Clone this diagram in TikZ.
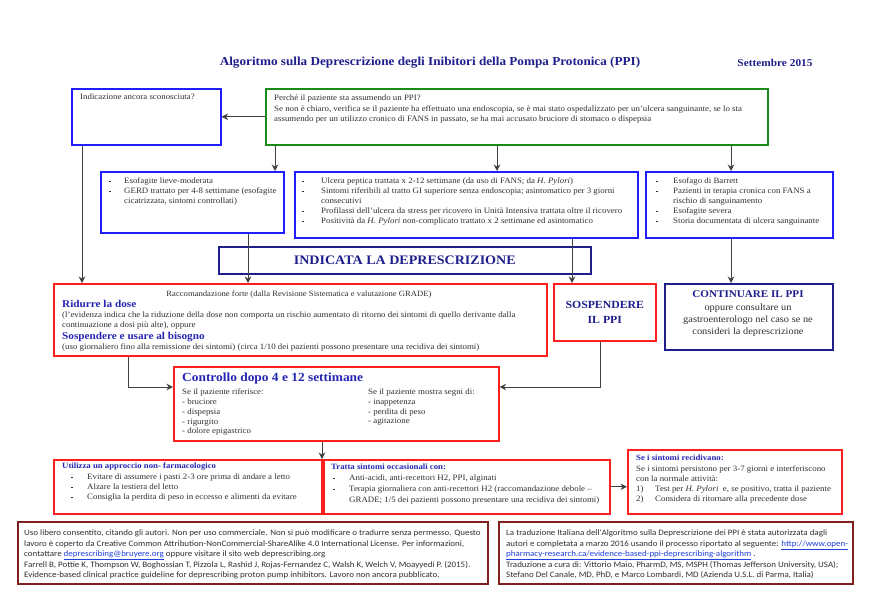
\documentclass[tikz,border=0pt]{standalone}
\usepackage{fontspec}
\setmainfont{Liberation Serif}[FakeStretch=1.08]
\newfontfamily\footfont{Carlito}[FakeStretch=1.08]
\usetikzlibrary{arrows.meta,calc}

\definecolor{boxblue}{HTML}{1E1EFF}
\definecolor{navy}{HTML}{1F1F8C}
\definecolor{headblue}{HTML}{2626B4}
\definecolor{boxgreen}{HTML}{1A8A1A}
\definecolor{boxred}{HTML}{FF1E1E}
\definecolor{darkred}{HTML}{7F1F1F}
\definecolor{textgray}{HTML}{303030}
\definecolor{arrowgray}{HTML}{404040}
\definecolor{linkblue}{HTML}{1F3FE0}

\newcommand\bsq{\rule[1.5pt]{1.6pt}{1.6pt}}
\newcommand\bl[1]{\makebox[#1][l]{\bsq}}
\newcommand\ind[1]{\hspace*{#1}}
\newcommand\lnk[1]{\textcolor{linkblue}{\underline{#1}}}

\begin{document}
\begin{tikzpicture}[x=1pt, y=-1pt,
  box/.style={draw, rectangle, anchor=north west, inner sep=0pt, line width=1.6pt},
  bluebox/.style={box, draw=boxblue},
  greenbox/.style={box, draw=boxgreen},
  navybox/.style={box, draw=navy},
  redbox/.style={box, draw=boxred},
  footbox/.style={box, draw=darkred},
  txt/.style={anchor=north west, inner sep=0pt, align=left, text=textgray,
              font=\fontsize{8.2}{10}\selectfont},
  head/.style={anchor=north west, inner sep=0pt, align=left, text=headblue,
               font=\fontsize{8.1}{10}\selectfont\bfseries},
  bighead/.style={anchor=north west, inner sep=0pt, align=left, text=headblue,
                  font=\fontsize{10.4}{12}\selectfont\bfseries},
  foot/.style={anchor=north west, inner sep=0pt, align=left, text=textgray,
               font=\footfont\fontsize{8.3}{10.4}\selectfont},
  edge/.style={draw=arrowgray, line width=0.8pt, -{Stealth[length=6.5pt,width=6.5pt]}},
]
  \useasboundingbox[fill=white] (0,0) rectangle (870,600);

  % ===== Title =====
  \node[text=navy, font=\fontsize{12.2}{14}\selectfont\bfseries] (title) at (430,63)
       {Algoritmo sulla Deprescrizione degli Inibitori della Pompa Protonica (PPI)};
  \node[text=navy, font=\fontsize{10.5}{12}\selectfont\bfseries] (date) at (775,63) {Settembre 2015};

  % ===== Question row =====
  \node[bluebox, minimum width=149pt, minimum height=56pt] (unk) at (71,88) {};
  \node[txt] (unktxt) at (80,94) {Indicazione ancora sconosciuta?};

  \node[greenbox, minimum width=502pt, minimum height=56pt] (why) at (265,88) {};
  \node[txt, font=\fontsize{8.2}{10.2}\selectfont] (whytxt) at (274,95) {Perché il paziente sta assumendo un PPI?\\
    Se non è chiaro, verifica se il paziente ha effettuato una endoscopia, se è mai stato ospedalizzato per un'ulcera sanguinante, se lo sta\\
    assumendo per un utilizzo cronico di FANS in passato, se ha mai accusato bruciore di stomaco o dispepsia};

  % ===== Indications row =====
  \node[bluebox, minimum width=183pt, minimum height=61pt] (esolft) at (100,171) {};
  \node[txt] (esolfttxt) at (109,178) {\bl{15pt}Esofagite lieve-moderata\\
    \bl{15pt}GERD trattato per 4-8 settimane (esofagite\\
    \ind{15pt}cicatrizzata, sintomi controllati)};

  \node[bluebox, minimum width=343pt, minimum height=66pt] (esomid) at (294,171) {};
  \node[txt] (esomidtxt) at (302,178) {\bl{19pt}Ulcera peptica trattata x 2-12 settimane (da uso di FANS; da \textit{H. Pylori})\\
    \bl{19pt}Sintomi riferibili al tratto GI superiore senza endoscopia; asintomatico per 3 giorni\\
    \ind{19pt}consecutivi\\
    \bl{19pt}Profilassi dell'ulcera da stress per ricovero in Unità Intensiva trattata oltre il ricovero\\
    \bl{19pt}Positività da \textit{H. Pylori} non-complicato trattato x 2 settimane ed asintomatico};

  \node[bluebox, minimum width=187pt, minimum height=66pt] (esorgt) at (645,171) {};
  \node[txt] (esorgttxt) at (656,178) {\bl{17pt}Esofago di Barrett\\
    \bl{17pt}Pazienti in terapia cronica con FANS a\\
    \ind{17pt}rischio di sanguinamento\\
    \bl{17pt}Esofagite severa\\
    \bl{17pt}Storia documentata di ulcera sanguinante};

  \node[navybox, minimum width=372pt, minimum height=27pt] (indic) at (218,246) {};
  \node[text=navy, font=\fontsize{13}{15}\selectfont\bfseries] (indictxt) at (indic.center)
       {INDICATA LA DEPRESCRIZIONE};

  % ===== Decision row =====
  \node[redbox, minimum width=493pt, minimum height=72pt] (ridurre) at (53,283) {};
  \node[txt, anchor=north, font=\fontsize{8}{10}\selectfont] (gradetxt) at (299,291)
       {Raccomandazione forte (dalla Revisione Sistematica e valutazione GRADE)};
  \node[bighead] (ridhead) at (62,300) {Ridurre la dose};
  \node[txt, font=\fontsize{8.2}{9.6}\selectfont] (ridtxt) at (62,312) {(l'evidenza indica che la riduzione della dose non comporta un rischio aumentato di ritorno dei sintomi di quello derivante dalla\\
    continuazione a dosi più alte), oppure};
  \node[bighead] (sosphead) at (62,332) {Sospendere e usare al bisogno};
  \node[txt] (sosptxt) at (62,344) {(uso giornaliero fino alla remissione dei sintomi) (circa 1/10 dei pazienti possono presentare una recidiva dei sintomi)};

  \node[redbox, minimum width=102pt, minimum height=57pt] (sosp) at (553,283) {};
  \node[text=navy, align=center, font=\fontsize{10.9}{15}\selectfont\bfseries] (sosptitle) at (sosp.center)
       {SOSPENDERE\\IL PPI};

  \node[navybox, minimum width=168pt, minimum height=66pt] (cont) at (664,283) {};
  \node[text=navy, anchor=north, inner sep=0pt, font=\fontsize{10.3}{12}\selectfont\bfseries] (conttitle) at (748,290)
       {CONTINUARE IL PPI};
  \node[text=textgray, anchor=north, inner sep=0pt, align=center, font=\fontsize{9.6}{12}\selectfont] (conttxt) at (748,304)
       {oppure consultare un\\ gastroenterologo nel caso se ne\\ consideri la deprescrizione};

  % ===== Follow-up =====
  \node[redbox, minimum width=325pt, minimum height=74pt] (ctrl) at (173,366) {};
  \node[bighead, font=\fontsize{12.4}{14}\selectfont\bfseries] (ctrlhead) at (182,373) {Controllo dopo 4 e 12 settimane};
  \node[txt, font=\fontsize{8.2}{9.7}\selectfont] (ctrlleft) at (182,389) {Se il paziente riferisce:\\
    - bruciore\\ - dispepsia\\ - rigurgito\\ - dolore epigastrico};
  \node[txt, font=\fontsize{8.2}{9.7}\selectfont] (ctrlright) at (368,389) {Se il paziente mostra segni di:\\
    - inappetenza\\ - perdita di peso\\ - agitazione};

  % ===== Management row =====
  \node[redbox, minimum width=268pt, minimum height=54pt] (nonfarm) at (53,459) {};
  \node[head] (nonfarmhead) at (62,463) {Utilizza un approccio non- farmacologico};
  \node[txt] (nonfarmtxt) at (71,474) {\bl{16pt}Evitare di assumere i pasti 2-3 ore prima di andare a letto\\
    \bl{16pt}Alzare la testiera del letto\\
    \bl{16pt}Consiglia la perdita di peso in eccesso e alimenti da evitare};

  \node[redbox, minimum width=286pt, minimum height=54pt] (tratta) at (323,459) {};
  \node[head] (trattahead) at (331,464) {Tratta sintomi occasionali con:};
  \node[txt, font=\fontsize{8.2}{10.8}\selectfont] (trattatxt) at (333,475) {\bl{16pt}Anti-acidi, anti-recettori H2, PPI, alginati\\
    \bl{16pt}Terapia giornaliera con anti-recettori H2 (raccomandazione debole --\\
    \ind{16pt}GRADE; 1/5 dei pazienti possono presentare una recidiva dei sintomi)};

  \node[redbox, minimum width=214pt, minimum height=64pt] (recid) at (627,449) {};
  \node[head] (recidhead) at (636,455) {Se i sintomi recidivano:};
  \node[txt] (recidtxt) at (636,466) {Se i sintomi persistono per 3-7 giorni e interferiscono\\
    con la normale attività:\\
    \makebox[19pt][l]{1)}Test per \textit{H. Pylori}\ \ e, se positivo, tratta il paziente\\
    \makebox[19pt][l]{2)}Considera di ritornare alla precedente dose};

  % ===== Footer =====
  \node[footbox, minimum width=470pt, minimum height=62pt] (credits) at (17,521) {};
  \node[foot] (creditstxt) at (24,530) {Uso libero consentito, citando gli autori. Non per uso commerciale. Non si può modificare o tradurre senza permesso. Questo\\
    lavoro è coperto da Creative Common Attribution-NonCommercial-ShareAlike 4.0 International License. Per informazioni,\\
    contattare \lnk{deprescribing@bruyere.org} oppure visitare il sito web deprescribing.org\\
    Farrell B, Pottie K, Thompson W, Boghossian T, Pizzola L, Rashid J, Rojas-Fernandez C, Walsh K, Welch V, Moayyedi P. (2015).\\
    Evidence-based clinical practice guideline for deprescribing proton pump inhibitors. Lavoro non ancora pubblicato.};

  \node[footbox, minimum width=354pt, minimum height=62pt] (transl) at (498,521) {};
  \node[foot] (transltxt) at (506,530) {La traduzione Italiana dell'Algoritmo sulla Deprescrizione dei PPI è stata autorizzata dagli\\
    autori e completata a marzo 2016 usando il processo riportato al seguente: \lnk{http://www.open-}\\
    \lnk{pharmacy-research.ca/evidence-based-ppi-deprescribing-algorithm} .\\
    Traduzione a cura di: Vittorio Maio, PharmD, MS, MSPH (Thomas Jefferson University, USA);\\
    Stefano Del Canale, MD, PhD, e Marco Lombardi, MD (Azienda U.S.L. di Parma, Italia)};

  % ===== Connectors =====
  \coordinate (xa) at (275,0);
  \coordinate (xb) at (497,0);
  \coordinate (xc) at (731,0);
  \coordinate (xd) at (82,0);
  \coordinate (xe) at (248,0);
  \coordinate (xf) at (572,0);
  \coordinate (xg) at (128,0);
  \coordinate (xh) at (600,0);
  \coordinate (xi) at (322,0);
  \coordinate (yc) at (0,387);

  \draw[edge] (why.west) -- (unk.east);
  \draw[edge] (xa |- why.south) -- (xa |- esolft.north);
  \draw[edge] (xb |- why.south) -- (xb |- esomid.north);
  \draw[edge] (xc |- why.south) -- (xc |- esorgt.north);
  \draw[edge] (xd |- unk.south) -- (xd |- ridurre.north);
  \draw[edge] (xe |- esolft.south) -- (xe |- ridurre.north);
  \draw[edge] (xf |- esomid.south) -- (xf |- sosp.north);
  \draw[edge] (xc |- esorgt.south) -- (xc |- cont.north);
  \draw[edge] (xg |- ridurre.south) |- (ctrl.west |- yc);
  \draw[edge] (xh |- sosp.south) |- (ctrl.east |- yc);
  \draw[edge] (xi |- ctrl.south) -- (xi |- nonfarm.north);
  \draw[edge] (tratta.east) -- (tratta.east -| recid.west);

\end{tikzpicture}
\end{document}
